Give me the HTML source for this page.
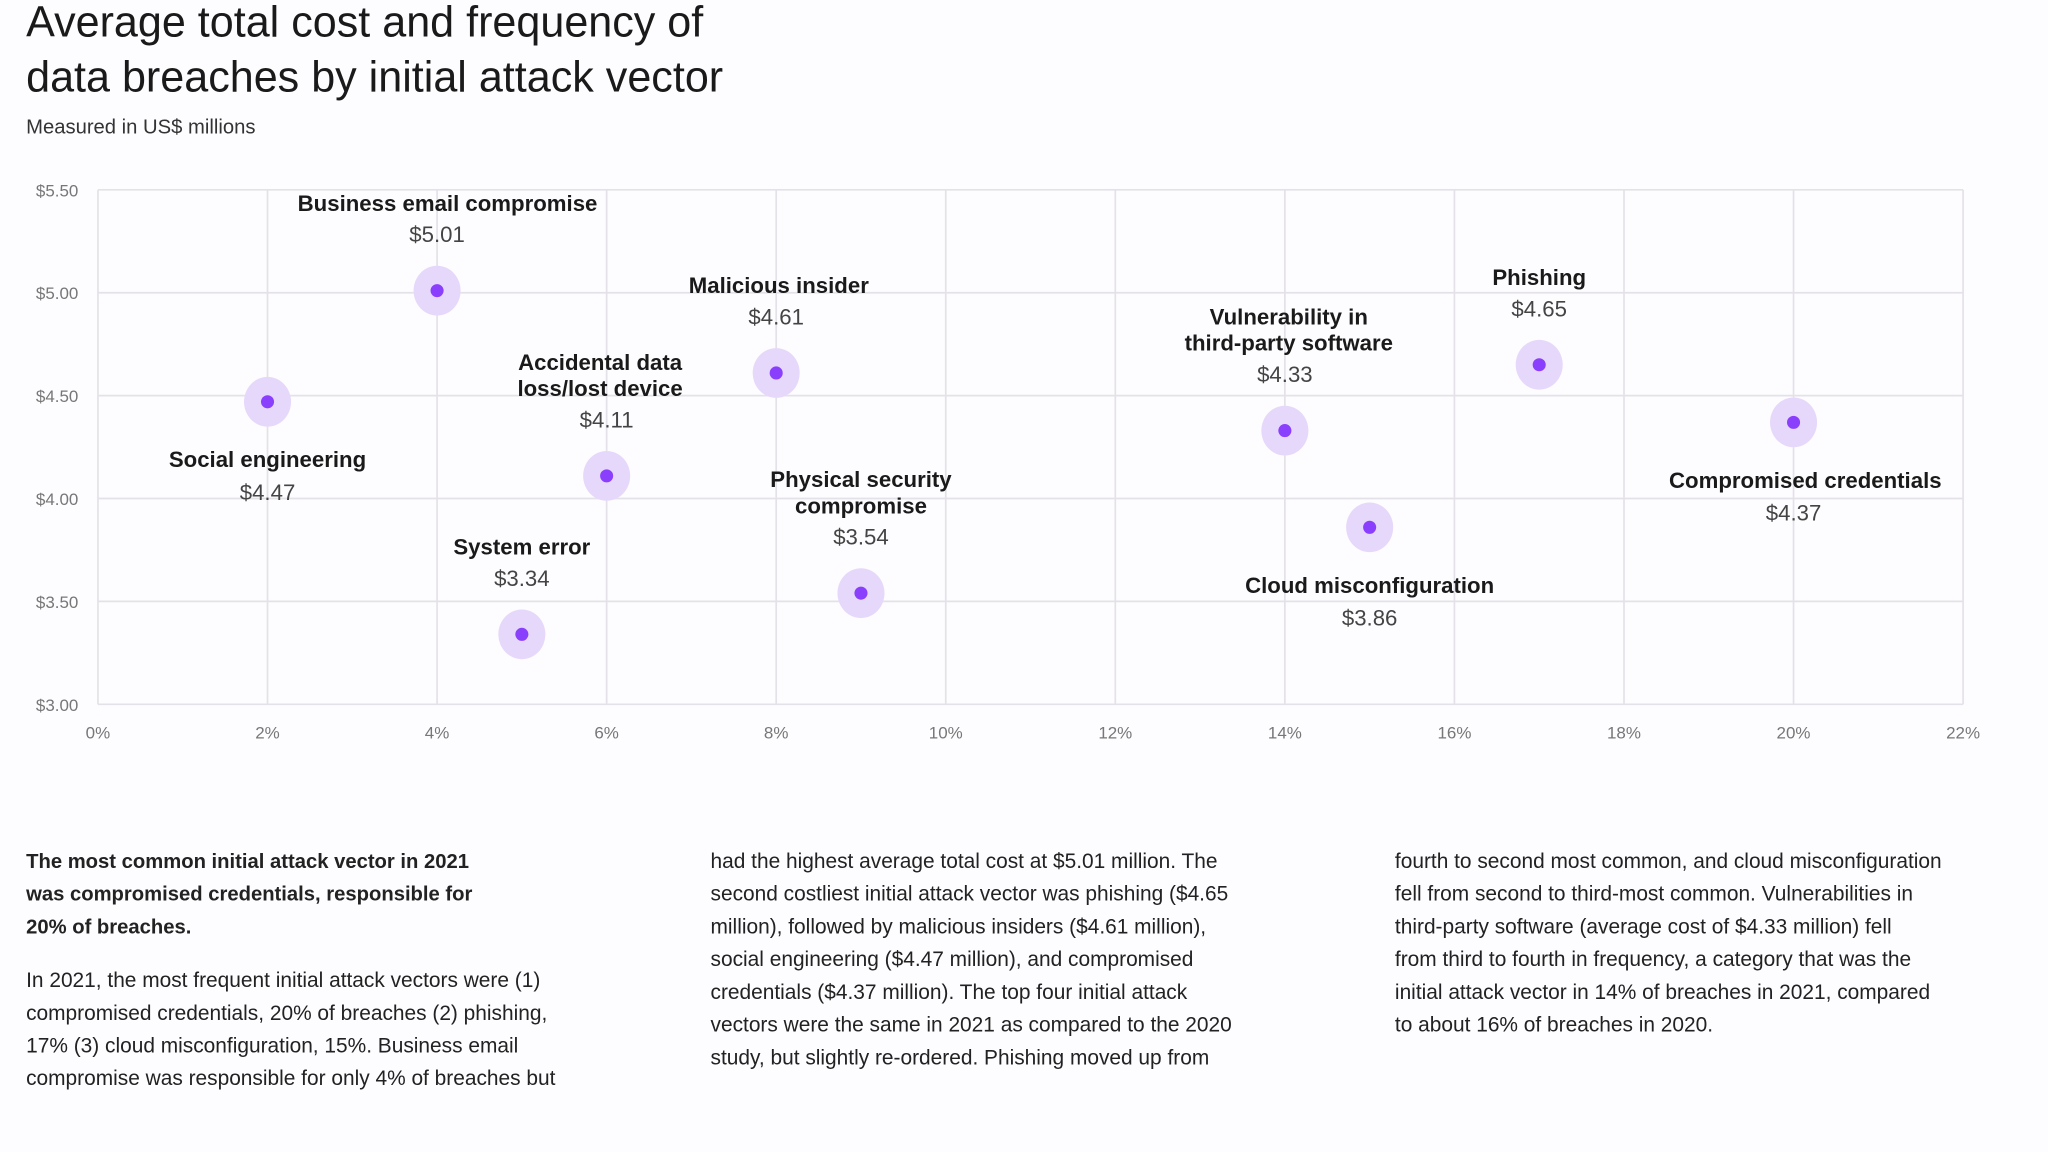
<!DOCTYPE html>
<html><head><meta charset="utf-8"><style>
html,body{margin:0;padding:0;background:#fff;width:2048px;height:1152px;overflow:hidden}
svg{display:block;font-family:"Liberation Sans",sans-serif}
</style></head><body>
<svg id="chart" width="2048" height="1152" viewBox="0 0 1568 880" preserveAspectRatio="none" xmlns="http://www.w3.org/2000/svg">
<rect width="1568" height="880" fill="#fdfcfe"/>
<text x="20" y="28" font-size="33" fill="#1a1a1a">Average total cost and frequency of</text>
<text x="20" y="70" font-size="33" fill="#1a1a1a">data breaches by initial attack vector</text>
<text x="20" y="102" font-size="15.5" fill="#333">Measured in US$ millions</text>
<g id="grid"></g><g id="marks"></g>
<g font-size="16" fill="#222">
<text x="20" y="663" font-weight="bold" font-size="15.5"><tspan x="20">The most common initial attack vector in 2021</tspan><tspan x="20" dy="25">was compromised credentials, responsible for</tspan><tspan x="20" dy="25">20% of breaches.</tspan></text>
<text x="20" y="754"><tspan x="20">In 2021, the most frequent initial attack vectors were (1)</tspan><tspan x="20" dy="25">compromised credentials, 20% of breaches (2) phishing,</tspan><tspan x="20" dy="25">17% (3) cloud misconfiguration, 15%. Business email</tspan><tspan x="20" dy="25">compromise was responsible for only 4% of breaches but</tspan></text>
<text x="544" y="663"><tspan x="544">had the highest average total cost at $5.01 million. The</tspan><tspan x="544" dy="25">second costliest initial attack vector was phishing ($4.65</tspan><tspan x="544" dy="25">million), followed by malicious insiders ($4.61 million),</tspan><tspan x="544" dy="25">social engineering ($4.47 million), and compromised</tspan><tspan x="544" dy="25">credentials ($4.37 million). The top four initial attack</tspan><tspan x="544" dy="25">vectors were the same in 2021 as compared to the 2020</tspan><tspan x="544" dy="25">study, but slightly re-ordered. Phishing moved up from</tspan></text>
<text x="1068" y="663"><tspan x="1068">fourth to second most common, and cloud misconfiguration</tspan><tspan x="1068" dy="25">fell from second to third-most common. Vulnerabilities in</tspan><tspan x="1068" dy="25">third-party software (average cost of $4.33 million) fell</tspan><tspan x="1068" dy="25">from third to fourth in frequency, a category that was the</tspan><tspan x="1068" dy="25">initial attack vector in 14% of breaches in 2021, compared</tspan><tspan x="1068" dy="25">to about 16% of breaches in 2020.</tspan></text>
</g>
</svg>
<script>
const categories = ["Social engineering","Business email compromise","Accidental data loss/lost device","System error","Malicious insider","Physical security compromise","Vulnerability in third-party software","Cloud misconfiguration","Phishing","Compromised credentials"];
const frequency = [2,4,6,5,8,9,14,15,17,20];
const cost = [4.47,5.01,4.11,3.34,4.61,3.54,4.33,3.86,4.65,4.37];
const xTicks = [0,2,4,6,8,10,12,14,16,18,20,22];
const yTicks = [3.0,3.5,4.0,4.5,5.0,5.5];
const labelLines = [["Social engineering"],["Business email compromise"],["Accidental data","loss/lost device"],["System error"],["Malicious insider"],["Physical  security","compromise"],["Vulnerability in","third-party software"],["Cloud misconfiguration"],["Phishing"],["Compromised credentials"]];
const below = [true,false,false,false,false,false,false,true,false,true];
const dxOff = [0,8,-5,0,2,0,3,0,0,9];

const NS="http://www.w3.org/2000/svg";
const X0=75,X1=1503,Y0=538,Y1=145;
const xs=v=>X0+(v-0)/(22-0)*(X1-X0);
const ys=v=>Y0-(v-3)/(5.5-3)*(Y0-Y1);
function mk(tag,attrs,parent){const e=document.createElementNS(NS,tag);for(const k in attrs)e.setAttribute(k,attrs[k]);parent.appendChild(e);return e;}
const grid=document.getElementById('grid'),marks=document.getElementById('marks');
xTicks.forEach(t=>{
  const l=mk('line',{x1:xs(t),x2:xs(t),y1:Y1,y2:Y0,stroke:'#e4e2e8','stroke-width':1.3},grid);
  
  
  const tx=mk('text',{x:xs(t),y:Y0+26,'text-anchor':'middle','font-size':13,fill:'#777'},grid);
  tx.textContent=t+'%';
  
  
});
yTicks.forEach(t=>{
  const l=mk('line',{x1:X0,x2:X1,y1:ys(t),y2:ys(t),stroke:'#e4e2e8','stroke-width':1.3},grid);
  
  
  const tx=mk('text',{x:60,y:ys(t)+5,'text-anchor':'end','font-size':13,fill:'#777'},grid);
  tx.textContent='$'+t.toFixed(2);
  
  
});
categories.forEach((c,i)=>{
  const cx=xs(frequency[i]),cy=ys(cost[i]);
  const g=mk('g',{},marks);
  
  
  mk('ellipse',{cx:cx,cy:cy,rx:18,ry:19,fill:'#e6d8fa'},g);
  mk('circle',{cx:cx,cy:cy,r:5,fill:'#8a3ffc'},g);
  const lines=labelLines[i],lx=cx+dxOff[i],n=lines.length;
  let nameLast,valY;
  if(below[i]){nameLast=cy+50;valY=cy+75;}else{nameLast=cy-61;valY=cy-37;}
  lines.forEach((ln,j)=>{
    const t=mk('text',{x:lx,y:nameLast-(n-1-j)*20,'text-anchor':'middle','font-size':17,'font-weight':'bold',fill:'#1a1a1a'},g);
    t.textContent=ln;
    
    
  });
  const v=mk('text',{x:cx,y:valY,'text-anchor':'middle','font-size':17,fill:'#444'},g);
  v.textContent='$'+cost[i].toFixed(2);
  
  
});
</script>
</body></html>
